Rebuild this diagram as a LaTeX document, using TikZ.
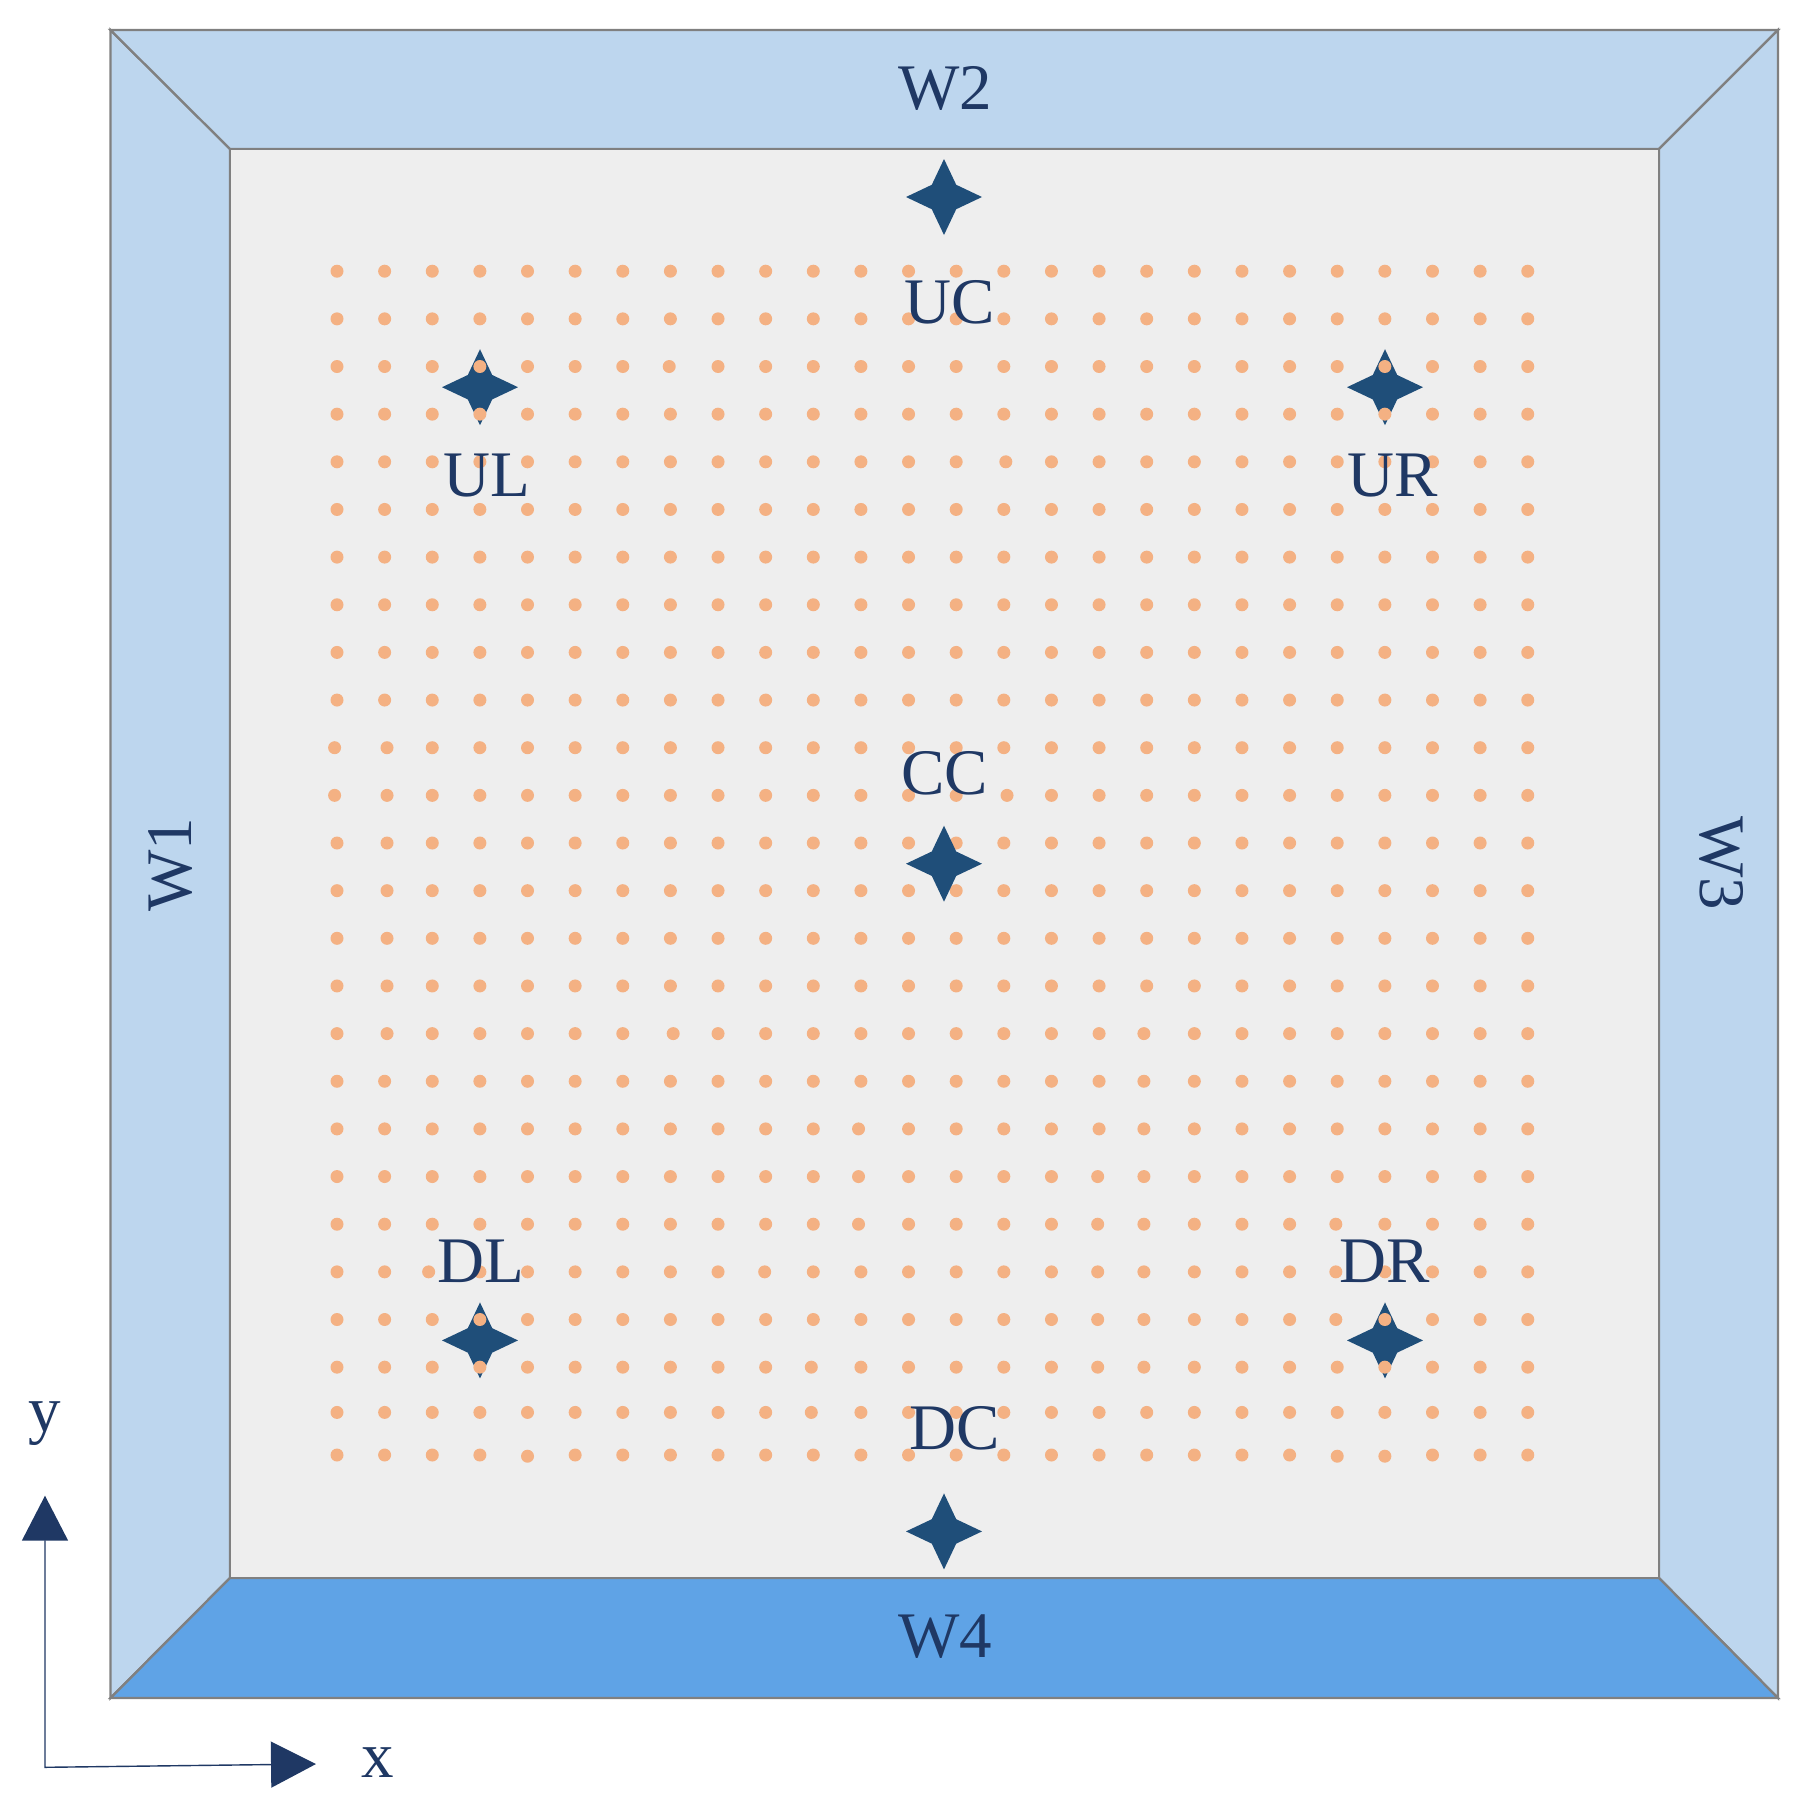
\documentclass[tikz,border=0pt]{standalone}
\usepackage{xcolor}
\usepackage{fontspec}
\setmainfont{Liberation Serif}
\usetikzlibrary{shapes.geometric, arrows.meta}

\definecolor{wallblue}{HTML}{BDD6EE}
\definecolor{floorblue}{HTML}{5FA3E6}
\definecolor{roomgrey}{HTML}{EEEEEE}
\definecolor{edgegrey}{HTML}{808080}
\definecolor{dotorange}{HTML}{F4B183}
\definecolor{sourceblue}{HTML}{1F4E79}
\definecolor{labelblue}{HTML}{1F3864}

\begin{document}
\begin{tikzpicture}[x=0.02cm,y=-0.02cm]
        \useasboundingbox (0,0) rectangle (1811,1820);
        % corners of the box
        \coordinate (o1) at (110.5,30);
        \coordinate (o2) at (1778,30);
        \coordinate (o3) at (1778,1698);
        \coordinate (o4) at (110.5,1698);
        \coordinate (i1) at (230,149);
        \coordinate (i2) at (1659,149);
        \coordinate (i3) at (1659,1578);
        \coordinate (i4) at (230,1578);
        \begin{scope}[draw=edgegrey,line width=1.3pt,line join=miter]
          \filldraw[fill=wallblue] (o1) -- (i1) -- (i4) -- (o4) -- cycle;
          \filldraw[fill=wallblue] (o1) -- (o2) -- (i2) -- (i1) -- cycle;
          \filldraw[fill=wallblue] (o2) -- (o3) -- (i3) -- (i2) -- cycle;
          \filldraw[fill=floorblue] (o4) -- (i4) -- (i3) -- (o3) -- cycle;
          \filldraw[fill=roomgrey] (i1) -- (i2) -- (i3) -- (i4) -- cycle;
        \end{scope}
        \begin{scope}[every node/.style={star,star points=4,star point ratio=2.2,minimum size=1.52cm,inner sep=0pt,fill=sourceblue}]
          \node (UL) at (480,387.2) {};
          \node (UR) at (1385,387.2) {};
          \node (DL) at (480,1340.4) {};
          \node (DR) at (1385,1340.4) {};
        \end{scope}
        % dots that sit off the regular grid
        \foreach \col/\rows/\ox/\oy in {0/{10,11}/-2.4/0,1/{10,...,16}/2.4/0,7/{2}/-1.2/0,14/{4}/2/0,14/{11}/3.2/0,
            7/{16}/2.8/0,11/{18,19,20}/-2.4/0,2/{21}/-3.6/0,9/{21}/-1/0,10/{23,24}/-2/0,
            17/{16,...,23}/-2.8/0,16/{19,...,23}/-1.4/0,21/{20,21,22}/-1.4/0,
            4/{25}/0/1.2,21/{25}/0/1.2,22/{25}/0/1.2}
          \foreach \row in \rows
            \expandafter\xdef\csname off\col-\row\endcsname{\ox,\oy};
        \foreach \row in {0,...,25}{
          \pgfmathsetmacro{\rowy}{\row<24 ? 271.2+47.65*\row : (\row==24 ? 1412.4 : 1455)}
          \foreach \col in {0,...,25}{
            \ifcsname off\col-\row\endcsname
              \edef\offs{\csname off\col-\row\endcsname}
            \else
              \def\offs{0,0}
            \fi
            \pgfmathsetmacro{\colx}{337+47.63*\col}
            \fill[dotorange,shift={(\offs)}] (\colx,\rowy) circle[radius=0.13cm];
          }
        }
        \begin{scope}[every node/.style={star,star points=4,star point ratio=2.2,minimum size=1.52cm,inner sep=0pt,fill=sourceblue}]
          \node (UC) at (944,197) {};
          \node (CC) at (944,863.7) {};
          \node (DC) at (944,1531.4) {};
        \end{scope}
        \begin{scope}[every node/.style={inner sep=0pt,text=labelblue,font=\fontsize{37}{40}\selectfont}]
          \node (labelW1) at (171,865) [rotate=90] {W1};
          \node (labelW2) at (945,88) {W2};
          \node (labelW3) at (1722,863) [rotate=-90] {W3};
          \node (labelW4) at (945,1637) {W4};
          \node (labelUC) at (950,302.4) {UC};
          \node (labelUL) at (487,476) {UL};
          \node (labelUR) at (1392.5,476) {UR};
          \node (labelCC) at (944.5,773) {CC};
          \node (labelDL) at (481,1261.7) {DL};
          \node (labelDR) at (1385,1261.7) {DR};
          \node (labelDC) at (955,1427.8) {DC};
          \node (labelx) at (378,1763) {x};
          \node (labely) at (44.5,1424) {y};
        \end{scope}
        % axes
        \coordinate (origin) at (45,1767.3);
        \coordinate (yend) at (45,1495.7);
        \coordinate (xend) at (316,1764);
        \draw[labelblue,line width=0.8pt,>={Triangle[length=25.6pt,width=26.2pt]},<->] (yend) -- (origin) -- (xend);
      \end{tikzpicture}
\end{document}
